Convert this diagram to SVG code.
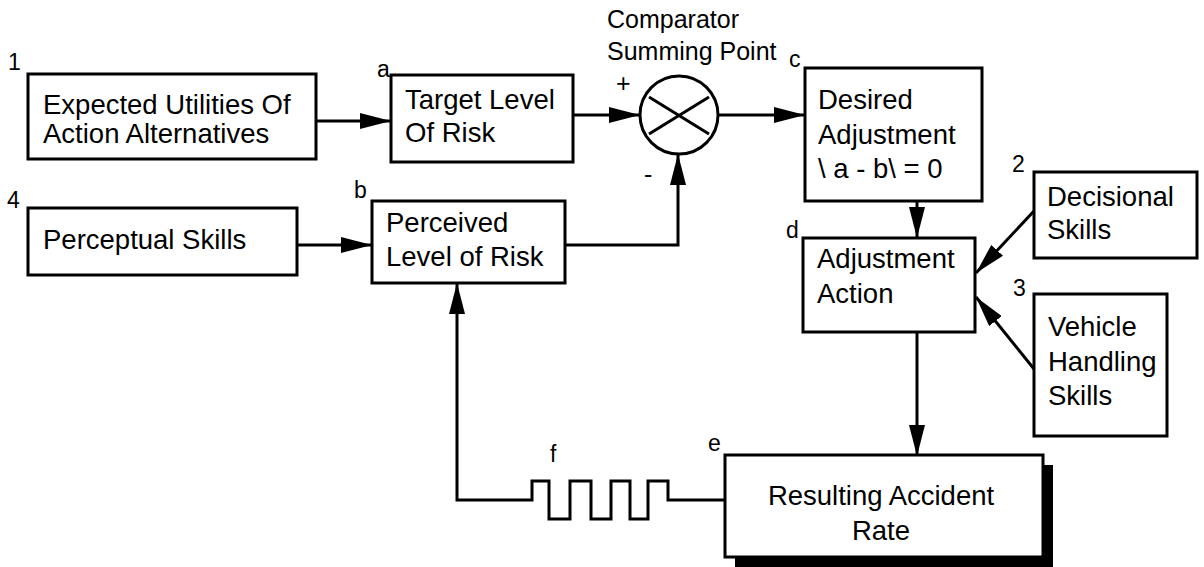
<svg xmlns="http://www.w3.org/2000/svg" width="1204" height="567" viewBox="0 0 1204 567">
  <style>
    .box { fill: #fff; stroke: #000; stroke-width: 3; }
    .txt { font-family: "Liberation Sans", Arial, sans-serif; font-size: 27.5px; fill: #000; }
    .lbl { font-family: "Liberation Sans", Arial, sans-serif; font-size: 23px; fill: #000; }
    .cap { font-family: "Liberation Sans", Arial, sans-serif; font-size: 25px; fill: #000; }
    .wire { fill: none; stroke: #000; stroke-width: 3; }
  </style>
  <defs>
    <marker id="arrow" markerUnits="userSpaceOnUse" markerWidth="32" markerHeight="16" refX="31" refY="8" orient="auto">
      <path d="M0,0 L31,8 L0,16 z" fill="#000"/>
    </marker>
  </defs>
  <rect width="1204" height="567" fill="#fff"/>

  <!-- 1: expected utilities -->
  <g id="node-utilities">
    <rect class="box" x="28" y="74" width="288" height="85"/>
    <text class="lbl" x="8" y="70">1</text>
    <text class="txt" x="43" y="114">Expected Utilities Of</text>
    <text class="txt" x="43" y="143">Action Alternatives</text>
  </g>

  <!-- a: target level of risk -->
  <g id="node-target">
    <rect class="box" x="391" y="75" width="182" height="87"/>
    <text class="lbl" x="377" y="77">a</text>
    <text class="txt" x="405" y="109">Target Level</text>
    <text class="txt" x="405" y="142">Of Risk</text>
  </g>

  <!-- comparator summing point -->
  <g id="node-comparator">
    <text class="cap" x="607" y="28">Comparator</text>
    <text class="cap" x="607" y="60">Summing Point</text>
    <circle cx="679" cy="115" r="39" fill="#fff" stroke="#000" stroke-width="3"/>
    <line x1="649" y1="97" x2="709" y2="134" stroke="#000" stroke-width="3"/>
    <line x1="649" y1="134" x2="709" y2="97" stroke="#000" stroke-width="3"/>
    <text class="cap" x="616" y="92">+</text>
    <text class="cap" x="644" y="183">-</text>
  </g>

  <!-- c: desired adjustment -->
  <g id="node-desired">
    <rect class="box" x="805" y="68" width="177" height="133"/>
    <text class="lbl" x="789" y="67">c</text>
    <text class="txt" x="818" y="109">Desired</text>
    <text class="txt" x="818" y="144">Adjustment</text>
    <text class="txt" x="818" y="178">\ a - b\ = 0</text>
  </g>

  <!-- 4: perceptual skills -->
  <g id="node-perceptual">
    <rect class="box" x="28" y="208" width="269" height="67"/>
    <text class="lbl" x="7" y="208">4</text>
    <text class="txt" x="43" y="249">Perceptual Skills</text>
  </g>

  <!-- b: perceived level of risk -->
  <g id="node-perceived">
    <rect class="box" x="372" y="201" width="193" height="82"/>
    <text class="lbl" x="354" y="198">b</text>
    <text class="txt" x="386" y="232">Perceived</text>
    <text class="txt" x="386" y="266">Level of Risk</text>
  </g>

  <!-- d: adjustment action -->
  <g id="node-action">
    <rect class="box" x="803" y="238" width="172" height="94"/>
    <text class="lbl" x="786" y="238">d</text>
    <text class="txt" x="817" y="268">Adjustment</text>
    <text class="txt" x="817" y="303">Action</text>
  </g>

  <!-- 2: decisional skills -->
  <g id="node-decisional">
    <rect class="box" x="1034" y="172" width="163" height="86"/>
    <text class="lbl" x="1012" y="172">2</text>
    <text class="txt" x="1047" y="206">Decisional</text>
    <text class="txt" x="1047" y="239">Skills</text>
  </g>

  <!-- 3: vehicle handling skills -->
  <g id="node-vehicle">
    <rect class="box" x="1034" y="294" width="133" height="142"/>
    <text class="lbl" x="1013" y="296">3</text>
    <text class="txt" x="1048" y="336">Vehicle</text>
    <text class="txt" x="1048" y="371">Handling</text>
    <text class="txt" x="1048" y="405">Skills</text>
  </g>

  <!-- e: resulting accident rate (drop-shadowed box) -->
  <g id="node-accident">
    <rect x="735" y="465" width="318" height="102" fill="#000"/>
    <rect class="box" x="725" y="455" width="318" height="102"/>
    <text class="lbl" x="708" y="451">e</text>
    <text class="txt" x="881" y="505" text-anchor="middle">Resulting Accident</text>
    <text class="txt" x="881" y="540" text-anchor="middle">Rate</text>
  </g>

  <!-- f: delay label -->
  <g id="node-delay">
    <text class="lbl" x="550" y="462">f</text>
  </g>

  <g id="connectors">
    <line class="wire" x1="316" y1="121" x2="391" y2="121" marker-end="url(#arrow)"/>
    <line class="wire" x1="573" y1="115" x2="640" y2="115" marker-end="url(#arrow)"/>
    <line class="wire" x1="718" y1="115" x2="805" y2="115" marker-end="url(#arrow)"/>
    <line class="wire" x1="297" y1="245" x2="372" y2="245" marker-end="url(#arrow)"/>
    <polyline class="wire" points="565,245 678,245 678,154" marker-end="url(#arrow)"/>
    <line class="wire" x1="917" y1="201" x2="917" y2="238" marker-end="url(#arrow)"/>
    <line class="wire" x1="1034" y1="211" x2="976" y2="273" marker-end="url(#arrow)"/>
    <line class="wire" x1="1034" y1="369" x2="976" y2="297" marker-end="url(#arrow)"/>
    <line class="wire" x1="917" y1="332" x2="917" y2="456" marker-end="url(#arrow)"/>
    <!-- feedback loop through the delay element -->
    <path class="wire" d="M725,500 H668 V481 H648 V519 H630 V481 H611 V519 H591 V481 H570 V519 H549 V481 H532 V500 H457 V283" marker-end="url(#arrow)"/>
  </g>
</svg>
